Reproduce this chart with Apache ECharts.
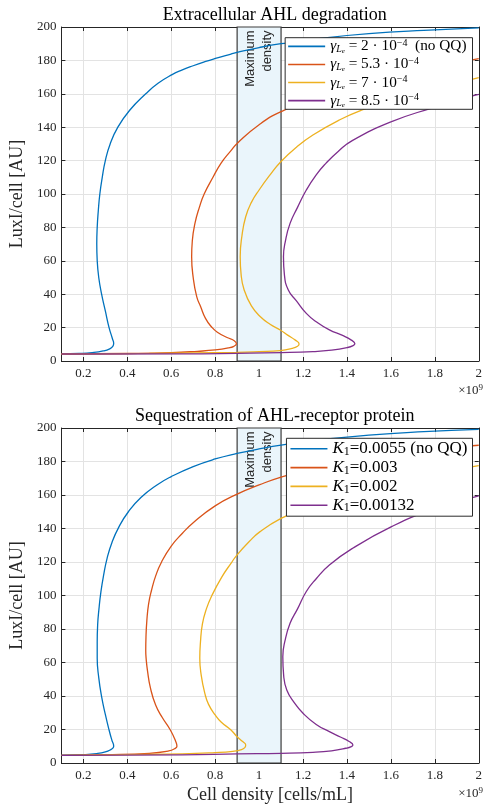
<!DOCTYPE html>
<html>
<head>
<meta charset="utf-8">
<script src="https://cdn.jsdelivr.net/npm/echarts@6/dist/echarts.min.js"></script>
<style>html,body{margin:0;padding:0;background:#fff}#c{width:485px;height:808px}</style>
</head>
<body>
<div id="c"></div>
<script>
// ---------- data ----------
const xTicks = [0.2, 0.4, 0.6, 0.8, 1.0, 1.2, 1.4, 1.6, 1.8, 2.0];
const yTicks = [0, 20, 40, 60, 80, 100, 120, 140, 160, 180, 200];
const maxDensity = [0.9, 1.1];

const titleTop = 'Extracellular AHL degradation';
const titleBottom = 'Sequestration of AHL-receptor protein';
const namesTop = ['deg1', 'deg2', 'deg3', 'deg4'];
const namesBottom = ['seq1', 'seq2', 'seq3', 'seq4'];
const labelsTop = [
  '{g|γ}{s|L}{ss|e}{t| = 2 · 10}{p|−4}{t|  (no QQ)}',
  '{g|γ}{s|L}{ss|e}{t| = 5.3 · 10}{p|−4}',
  '{g|γ}{s|L}{ss|e}{t| = 7 · 10}{p|−4}',
  '{g|γ}{s|L}{ss|e}{t| = 8.5 · 10}{p|−4}'
];
const labelsBottom = [
  '{g|K}{n|1}{t|=0.0055 (no QQ)}',
  '{g|K}{n|1}{t|=0.003}',
  '{g|K}{n|1}{t|=0.002}',
  '{g|K}{n|1}{t|=0.00132}'
];

// Extracellular AHL degradation
const deg1_x = [0.10,0.18,0.24,0.29,0.32,0.334,0.338,0.332,0.317,0.300,0.283,0.270,0.263,0.261,0.263,0.268,0.275,0.286,0.300,0.322,0.357,0.410,0.484,0.540,0.604,0.648,0.700,0.753,0.797,0.872,0.900,1.000,1.100,1.300,1.500,1.750,2.000];
const deg1_y = [4.3,4.5,5.0,6.0,7.3,8.8,10.5,13.5,20,30,40,50,60,70,80,90,100,110,120,130,140,150,160,166.3,171.5,174.2,176.8,179.2,181,183.8,184.8,187.7,190,193.5,196,198,199.5];
const deg2_x = [0.10,0.40,0.60,0.72,0.80,0.86,0.885,0.897,0.885,0.857,0.810,0.783,0.756,0.734,0.716,0.700,0.693,0.696,0.708,0.728,0.750,0.790,0.827,0.872,0.900,1.000,1.100,1.300,1.500,1.750,2.000];
const deg2_y = [4.2,4.5,5.0,5.8,6.6,7.8,8.8,10.3,12.3,13.9,17.2,20.5,25.5,32.5,38.5,50,62.5,72,82.4,92,100,110,118.5,126,130.3,141.5,149.3,159.8,167,174.5,181];
const deg3_x = [0.10,0.50,0.90,1.00,1.096,1.150,1.175,1.182,1.165,1.130,1.096,1.050,1.006,0.965,0.932,0.918,0.914,0.922,0.939,0.965,1.000,1.050,1.100,1.170,1.245,1.365,1.469,1.600,1.800,2.000];
const deg3_y = [4.2,4.6,5.2,5.6,6.2,7.5,8.8,10.2,12.5,15.5,18.6,22,26.5,33,42.5,52,62.5,75,86.4,95,102.4,111.5,119.5,128,135.3,144.3,150.3,156,163,169.7];
const deg4_x = [0.10,0.65,0.90,1.10,1.245,1.330,1.400,1.428,1.436,1.420,1.380,1.320,1.260,1.215,1.170,1.133,1.115,1.111,1.120,1.141,1.175,1.215,1.260,1.305,1.360,1.424,1.603,1.782,1.961,2.000];
const deg4_y = [4.2,4.3,4.6,5.0,5.6,6.5,8.0,9.2,10.3,12.5,15.3,18.6,23.5,28.5,36,42.5,52,62.5,72,82.4,92,102.4,111.5,118.5,125.5,132,143.3,151.3,158.3,159.6];

// Sequestration of AHL-receptor protein
const seq1_x = [0.10,0.20,0.26,0.30,0.325,0.336,0.338,0.330,0.317,0.300,0.283,0.270,0.263,0.263,0.265,0.271,0.280,0.292,0.308,0.331,0.362,0.405,0.462,0.535,0.600,0.700,0.800,0.900,1.000,1.100,1.300,1.500,1.750,2.000];
const seq1_y = [4.7,5.0,5.6,6.6,8.0,9.2,10.2,13.5,19.7,29,39.6,51,62.5,72,82.4,92,102.3,112,122.2,132,141,150,158.5,166,171,177,181.5,184.8,187.5,189.8,193.3,195.8,197.8,199.2];
const seq2_x = [0.10,0.30,0.50,0.589,0.615,0.626,0.620,0.596,0.560,0.529,0.505,0.492,0.486,0.484,0.485,0.489,0.497,0.510,0.530,0.556,0.600,0.650,0.700,0.800,0.900,1.000,1.100,1.300,1.500,1.750,2.000];
const seq2_y = [4.6,5.0,5.8,7.2,8.5,10.0,13,19.7,27,34.6,45,55,62,67,75,85,95,103,112,120,129.5,137,143.5,153.5,160.5,166,170.7,178,182.8,186.8,189.7];
const seq3_x = [0.10,0.40,0.65,0.80,0.88,0.92,0.935,0.939,0.925,0.900,0.872,0.827,0.800,0.770,0.753,0.737,0.730,0.733,0.742,0.760,0.785,0.830,0.872,0.900,0.955,1.003,1.100,1.200,1.300,1.500,1.750,2.000];
const seq3_y = [4.6,5.0,5.4,6.2,7.0,8.0,9.2,10.7,12.8,15.7,19.7,24.5,28.7,35,41.6,52,62.5,72,83,92,100,111,119.2,124.3,132.2,138,146,151.5,156,164,171.5,177.5];
const seq4_x = [0.10,0.65,0.90,1.10,1.245,1.330,1.395,1.420,1.427,1.410,1.370,1.320,1.260,1.200,1.160,1.126,1.112,1.108,1.118,1.141,1.175,1.215,1.260,1.320,1.426,1.603,1.782,2.000];
const seq4_y = [4.5,4.8,5.4,5.8,6.4,7.3,8.8,9.8,10.7,12.8,15.5,18.7,23,29.7,36,43.6,52,63.5,73,83.4,92,102.4,110,118.2,128.2,141.1,151,159.5];

const colors = ['#0072BD', '#D95319', '#EDB120', '#7E2F8E'];

// ---------- build ----------
const SERIF = 'Liberation Serif';
const SANS = 'Liberation Sans';
const AX = '#262626';
const zip = (xs, ys) => xs.map((x, i) => [x, ys[i]]);
const fmtX = v => String(+(+v).toFixed(1));

const grids = [
  {left: 57.5, right: 3, top: 27, height: 334},
  {left: 57.5, right: 3, top: 428, height: 335}
];

function xAxesFor(g, withName) {
  const main = {
    gridIndex: g, type: 'value', min: 0.1, max: 2, position: 'bottom',
    axisLine: {show: true, onZero: false, lineStyle: {color: AX, width: 1}},
    axisTick: {show: true, inside: true, length: 4, customValues: xTicks, lineStyle: {color: AX}},
    axisLabel: {show: true, customValues: xTicks, formatter: fmtX, color: AX, fontFamily: SERIF, fontSize: 13, margin: 6},
    splitLine: {show: true, lineStyle: {color: '#e3e3e3', width: 1}}
  };
  if (withName) {
    main.name = 'Cell density [cells/mL]';
    main.nameLocation = 'middle';
    main.nameGap = 23;
    main.nameTextStyle = {fontFamily: SERIF, fontSize: 18, color: AX};
  }
  const top = {
    gridIndex: g, type: 'value', min: 0.1, max: 2, position: 'top',
    axisLine: {show: true, onZero: false, lineStyle: {color: AX, width: 1}},
    axisTick: {show: true, inside: true, length: 4, customValues: xTicks, lineStyle: {color: AX}},
    axisLabel: {show: false}, splitLine: {show: false}
  };
  return [main, top];
}
function yAxesFor(g) {
  const main = {
    gridIndex: g, type: 'value', min: yTicks[0], max: yTicks[yTicks.length - 1], interval: 20, position: 'left',
    name: 'LuxI/cell [AU]', nameLocation: 'middle', nameGap: 35,
    nameTextStyle: {fontFamily: SERIF, fontSize: 18, color: AX},
    axisLine: {show: true, onZero: false, lineStyle: {color: AX, width: 1}},
    axisTick: {show: true, inside: true, length: 4, lineStyle: {color: AX}},
    axisLabel: {show: true, color: AX, fontFamily: SERIF, fontSize: 13, margin: 5},
    splitLine: {show: true, lineStyle: {color: '#e3e3e3', width: 1}}
  };
  const right = {
    gridIndex: g, type: 'value', min: yTicks[0], max: yTicks[yTicks.length - 1], interval: 20, position: 'right',
    axisLine: {show: true, onZero: false, lineStyle: {color: AX, width: 1}},
    axisTick: {show: true, inside: true, length: 4, lineStyle: {color: AX}},
    axisLabel: {show: false}, splitLine: {show: false}
  };
  return [main, right];
}

const xAxis = [...xAxesFor(0, false), ...xAxesFor(1, true)];
const yAxis = [...yAxesFor(0), ...yAxesFor(1)];

const markArea = {
  silent: true,
  itemStyle: {color: '#EAF5FB', borderColor: '#3c3c3c', borderWidth: 1.2},
  label: {
    show: true, position: 'insideTop', rotate: 90, align: 'right', verticalAlign: 'middle',
    distance: 4, formatter: 'Maximum\ndensity', fontFamily: SANS, fontSize: 13, lineHeight: 17, color: AX
  },
  data: [[{xAxis: maxDensity[0], yAxis: 0}, {xAxis: maxDensity[1], yAxis: 200}]]
};

const curvesTop = [zip(deg1_x, deg1_y), zip(deg2_x, deg2_y), zip(deg3_x, deg3_y), zip(deg4_x, deg4_y)];
const curvesBottom = [zip(seq1_x, seq1_y), zip(seq2_x, seq2_y), zip(seq3_x, seq3_y), zip(seq4_x, seq4_y)];

const series = [];
[[namesTop, curvesTop, 0], [namesBottom, curvesBottom, 1]].forEach(([names, curves, g]) => {
  curves.forEach((d, i) => {
    const s = {
      name: names[i], type: 'line', xAxisIndex: g * 2, yAxisIndex: g * 2, data: d,
      showSymbol: false, symbol: 'none', smooth: 0.5, clip: true,
      lineStyle: {color: colors[i], width: 1.3}, itemStyle: {color: colors[i]},
      z: 3
    };
    if (i === 0) s.markArea = markArea;
    series.push(s);
  });
});

function richLegend(fs) {
  const sub = Math.round(fs * 0.68);
  return {
    t: {fontFamily: SERIF, fontSize: fs, lineHeight: fs + 1, color: '#000', verticalAlign: 'middle'},
    g: {fontFamily: SERIF, fontSize: fs, lineHeight: fs + 1, color: '#000', fontStyle: 'italic', verticalAlign: 'middle'},
    s: {fontFamily: SERIF, fontSize: sub, lineHeight: sub, color: '#000', fontStyle: 'italic', verticalAlign: 'bottom'},
    ss: {fontFamily: SERIF, fontSize: sub - 3, lineHeight: sub - 4, color: '#000', fontStyle: 'italic', verticalAlign: 'bottom'},
    n: {fontFamily: SERIF, fontSize: sub, lineHeight: sub, color: '#000', verticalAlign: 'bottom'},
    p: {fontFamily: SERIF, fontSize: sub, lineHeight: sub, color: '#000', verticalAlign: 'top'}
  };
}
function legendFor(names, labels, top, gap, pad, fs) {
  return {
    data: names.map(n => ({name: n, icon: 'rect'})), orient: 'vertical', right: 12.5, top: top,
    itemWidth: 37, itemHeight: 1.6, itemGap: gap, padding: pad,
    backgroundColor: '#fff', borderColor: '#2b2b2b', borderWidth: 1, borderRadius: 0,
    formatter: n => labels[names.indexOf(n)],
    textStyle: {rich: richLegend(fs)}, selectedMode: false
  };
}

const xRich = {
  a: {fontFamily: SERIF, fontSize: 13, lineHeight: 14, fill: AX, verticalAlign: 'bottom'},
  b: {fontFamily: SERIF, fontSize: 9, lineHeight: 14, fill: AX, verticalAlign: 'top'}
};

const option = {
  animation: false,
  backgroundColor: '#fff',
  title: [
    {text: titleTop, left: 269.75, top: 1, textAlign: 'center',
     textStyle: {fontFamily: SERIF, fontSize: 18, fontWeight: 'normal', color: '#000'}},
    {text: titleBottom, left: 269.75, top: 402, textAlign: 'center',
     textStyle: {fontFamily: SERIF, fontSize: 18, fontWeight: 'normal', color: '#000'}}
  ],
  grid: grids,
  xAxis: xAxis,
  yAxis: yAxis,
  legend: [
    legendFor(namesTop, labelsTop, 37.7, 1.8, [0.5, 6, 0.5, 3], 15.3),
    legendFor(namesBottom, labelsBottom, 438.3, 1.3, [2, 5, 2, 4], 17)
  ],
  graphic: [
    {type: 'text', right: 2, top: 383, style: {text: '{a|×10}{b|9}', rich: xRich}},
    {type: 'text', right: 2, top: 786, style: {text: '{a|×10}{b|9}', rich: xRich}}
  ],
  series: series
};

const chart = echarts.init(document.getElementById('c'), null, {renderer: 'canvas'});
chart.setOption(option);
</script>
</body>
</html>
